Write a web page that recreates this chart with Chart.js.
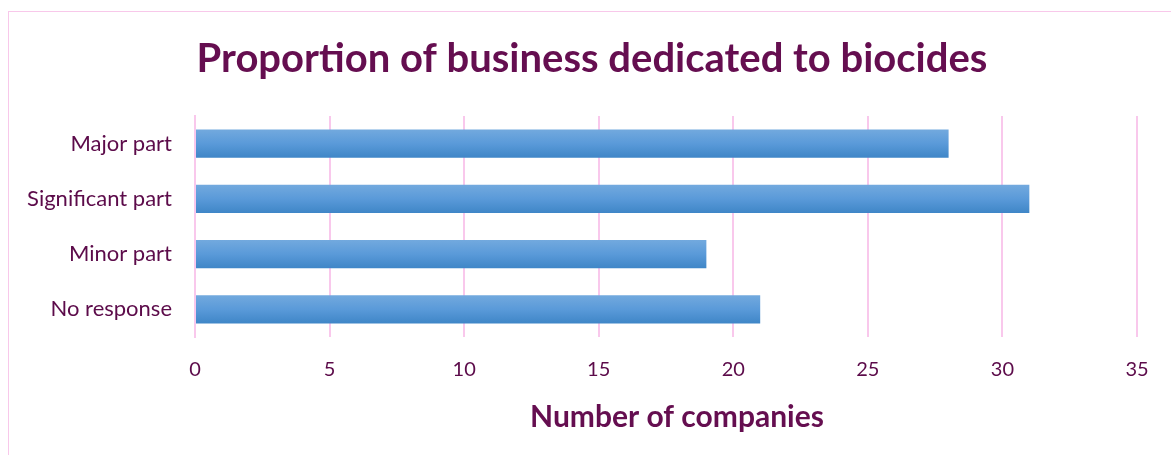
<!DOCTYPE html>
<html>
<head>
<meta charset="utf-8">
<script src="https://cdn.jsdelivr.net/npm/chart.js@4.4.1/dist/chart.umd.min.js"></script>
<style>
  html,body{margin:0;padding:0;background:#fff;}
  #wrap{position:relative;width:1171px;height:455px;overflow:hidden;}
  #frame{position:absolute;left:8px;top:11px;width:1200px;height:500px;
    border-top:1.5px solid #f8c8ea;border-left:1.5px solid #f8c8ea;box-sizing:border-box;}
  canvas{position:absolute;left:0;top:0;}
</style>
</head>
<body>
<div id="wrap">
  <div id="frame"></div>
  <canvas id="chart" width="1171" height="455"></canvas>
</div>
<script>
// datos
const categories = ["Major part", "Significant part", "Minor part", "No response"];
const companies  = [28, 31, 19, 21];
const xTicks     = [0, 5, 10, 15, 20, 25, 30, 35];
const chartTitle = "Proportion of business dedicated to biocides";
const xTitle     = "Number of companies";

const TEXT = "#5c0b4a";
const TITLE = "#650e50";
const GRID = "#f9c8ec";
const FONT = "Lato, 'Open Sans', sans-serif";

// degradado vertical por barra
function barFill(c){
  const chart = c.chart;
  const ys = chart.scales.y;
  if(!ys || !chart.chartArea) return "#5b9bd5";
  const yc = ys.getPixelForValue(c.dataIndex);
  const h = 28;
  const g = chart.ctx.createLinearGradient(0, yc - h/2, 0, yc + h/2);
  g.addColorStop(0, "#72a9de");
  g.addColorStop(0.5, "#5a9ad9");
  g.addColorStop(1, "#3f86c7");
  return g;
}

// títulos dibujados a mano (el de Chart.js no se puede desplazar)
const titles = {
  id: "titles",
  afterDraw(chart){
    const ctx = chart.ctx;
    ctx.save();
    ctx.fillStyle = TITLE;
    ctx.textAlign = "center";
    ctx.textBaseline = "alphabetic";
    ctx.font = "bold 40px " + FONT;
    ctx.fillText(chartTitle, 592, 72);
    ctx.font = "bold 30px " + FONT;
    ctx.fillText(xTitle, 677, 427);
    ctx.restore();
  }
};

new Chart(document.getElementById("chart"), {
  type: "bar",
  data: {
    labels: categories,
    datasets: [{
      label: xTitle,
      data: companies,
      backgroundColor: barFill,
      borderWidth: 0,
      categoryPercentage: 0.51,
      barPercentage: 1
    }]
  },
  options: {
    indexAxis: "y",
    responsive: false,
    animation: false,
    layout: { padding: { left: 0, right: 34, top: 116, bottom: 0 } },
    plugins: {
      legend: { display: false },
      tooltip: { enabled: false },
      title: { display: false }
    },
    scales: {
      x: {
        min: 0, max: 35,
        afterBuildTicks: s => { s.ticks = xTicks.map(v => ({ value: v })); },
        afterFit: s => { s.height = 118; },
        grid: { color: GRID, lineWidth: 2, drawTicks: false },
        border: { display: false },
        ticks: { color: TEXT, padding: 21, font: { family: FONT, size: 20 } }
      },
      y: {
        afterFit: s => { s.width = 195; },
        grid: { display: false, drawTicks: false },
        border: { display: true, color: GRID, width: 2 },
        ticks: { color: TEXT, padding: 23, font: { family: FONT, size: 22 } }
      }
    }
  },
  plugins: [titles]
});
</script>
</body>
</html>
